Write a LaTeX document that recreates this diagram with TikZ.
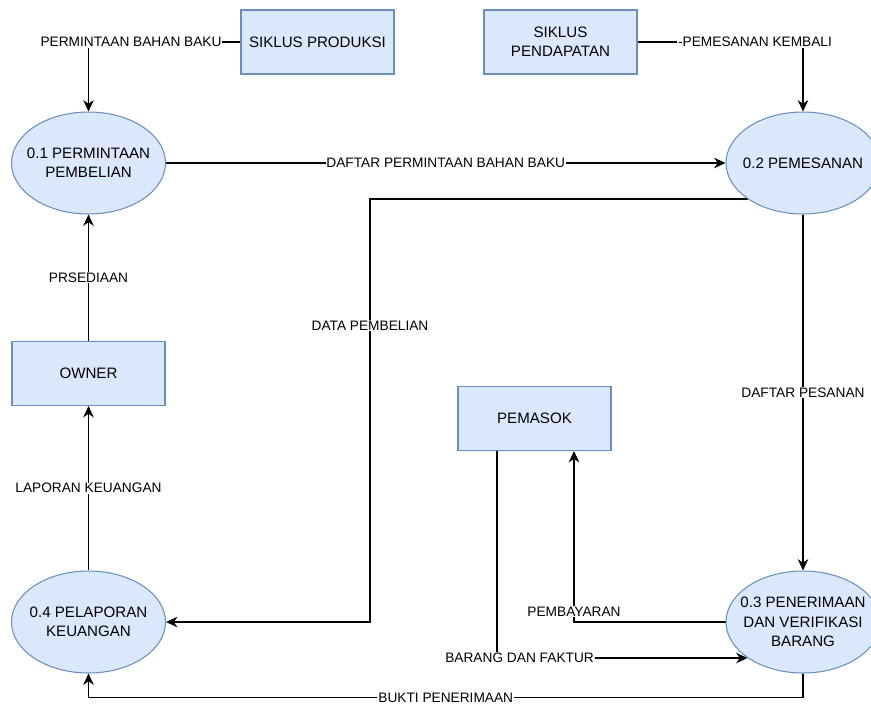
\documentclass[tikz,border=0pt]{standalone}
\usepackage{fontspec}
\setmainfont{Liberation Sans}
\usetikzlibrary{shapes.geometric,arrows.meta}
\pgfdeclarelayer{background}
\pgfsetlayers{background,main}
\definecolor{procfill}{HTML}{DAE8FC}
\definecolor{procline}{HTML}{6C8EBF}

\begin{document}
\begin{tikzpicture}[x=0.02cm,y=-0.02cm,
  font=\fontsize{8.6}{11}\selectfont,
  entity/.style={draw=procline,fill=procfill,line width=0.6pt,minimum width=3.06cm,minimum height=1.28cm,align=center,inner sep=1pt},
  proc/.style={ellipse,draw=procline,fill=procfill,line width=0.6pt,minimum width=3.08cm,minimum height=2.04cm,align=center,inner xsep=-8pt,inner ysep=0pt},
  flow/.style={draw=black,line width=0.6pt,-{Stealth[length=6.5pt,width=6pt]}},
  lbl/.style={fill=white,inner sep=0.5pt,font=\fontsize{7.8}{9}\selectfont}]
\useasboundingbox (0,0) rectangle (871,707);

% entities
\node[entity] (prod) at (317.5,42) {SIKLUS PRODUKSI};
\node[entity] (pend) at (560.5,42) {SIKLUS\\PENDAPATAN};
\node[entity] (owner) at (88.5,373.5) {OWNER};
\node[entity] (pemasok) at (534.5,418.5) {PEMASOK};

% processes
\node[proc] (p1) at (88.5,163) {0.1 PERMINTAAN\\PEMBELIAN};
\node[proc] (p2) at (803,163) {0.2 PEMESANAN};
\node[proc] (p3) at (803,622) {0.3 PENERIMAAN\\DAN VERIFIKASI\\BARANG};
\node[proc] (p4) at (88.5,622) {0.4 PELAPORAN\\KEUANGAN};
\coordinate (dp) at (370,622);

% data flows
\begin{pgfonlayer}{background}
\draw[flow] (prod.west) -| node[lbl,pos=0.36]{PERMINTAAN BAHAN BAKU} (p1.north);
\draw[flow] (pend.east) -| node[lbl,pos=0.355]{-PEMESANAN KEMBALI} (p2.north);
\draw[flow] (p1.east) -- node[lbl]{DAFTAR PERMINTAAN BAHAN BAKU} (p2.west);
\draw[flow] (p2.213) -| node[lbl,pos=0.65]{DATA PEMBELIAN} (dp) -- (p4.east);
\draw[flow] (owner.north) -- node[lbl]{PRSEDIAAN} (p1.south);
\draw[flow] (p4.north) -- node[lbl]{LAPORAN KEUANGAN} (owner.south);
\draw[flow] (p2.south) -- node[lbl]{DAFTAR PESANAN} (p3.north);
\draw[flow] (p3.west) -| node[lbl,pos=0.53]{PEMBAYARAN} ([xshift=0.79cm]pemasok.south);
\draw[flow] ([xshift=-0.75cm]pemasok.south) |- node[lbl,pos=0.545]{BARANG DAN FAKTUR} (p3.213);
\draw[flow] (p3.south) -- ++(0,24) -| node[lbl,pos=0.25]{BUKTI PENERIMAAN} (p4.south);
\end{pgfonlayer}
\end{tikzpicture}
\end{document}
